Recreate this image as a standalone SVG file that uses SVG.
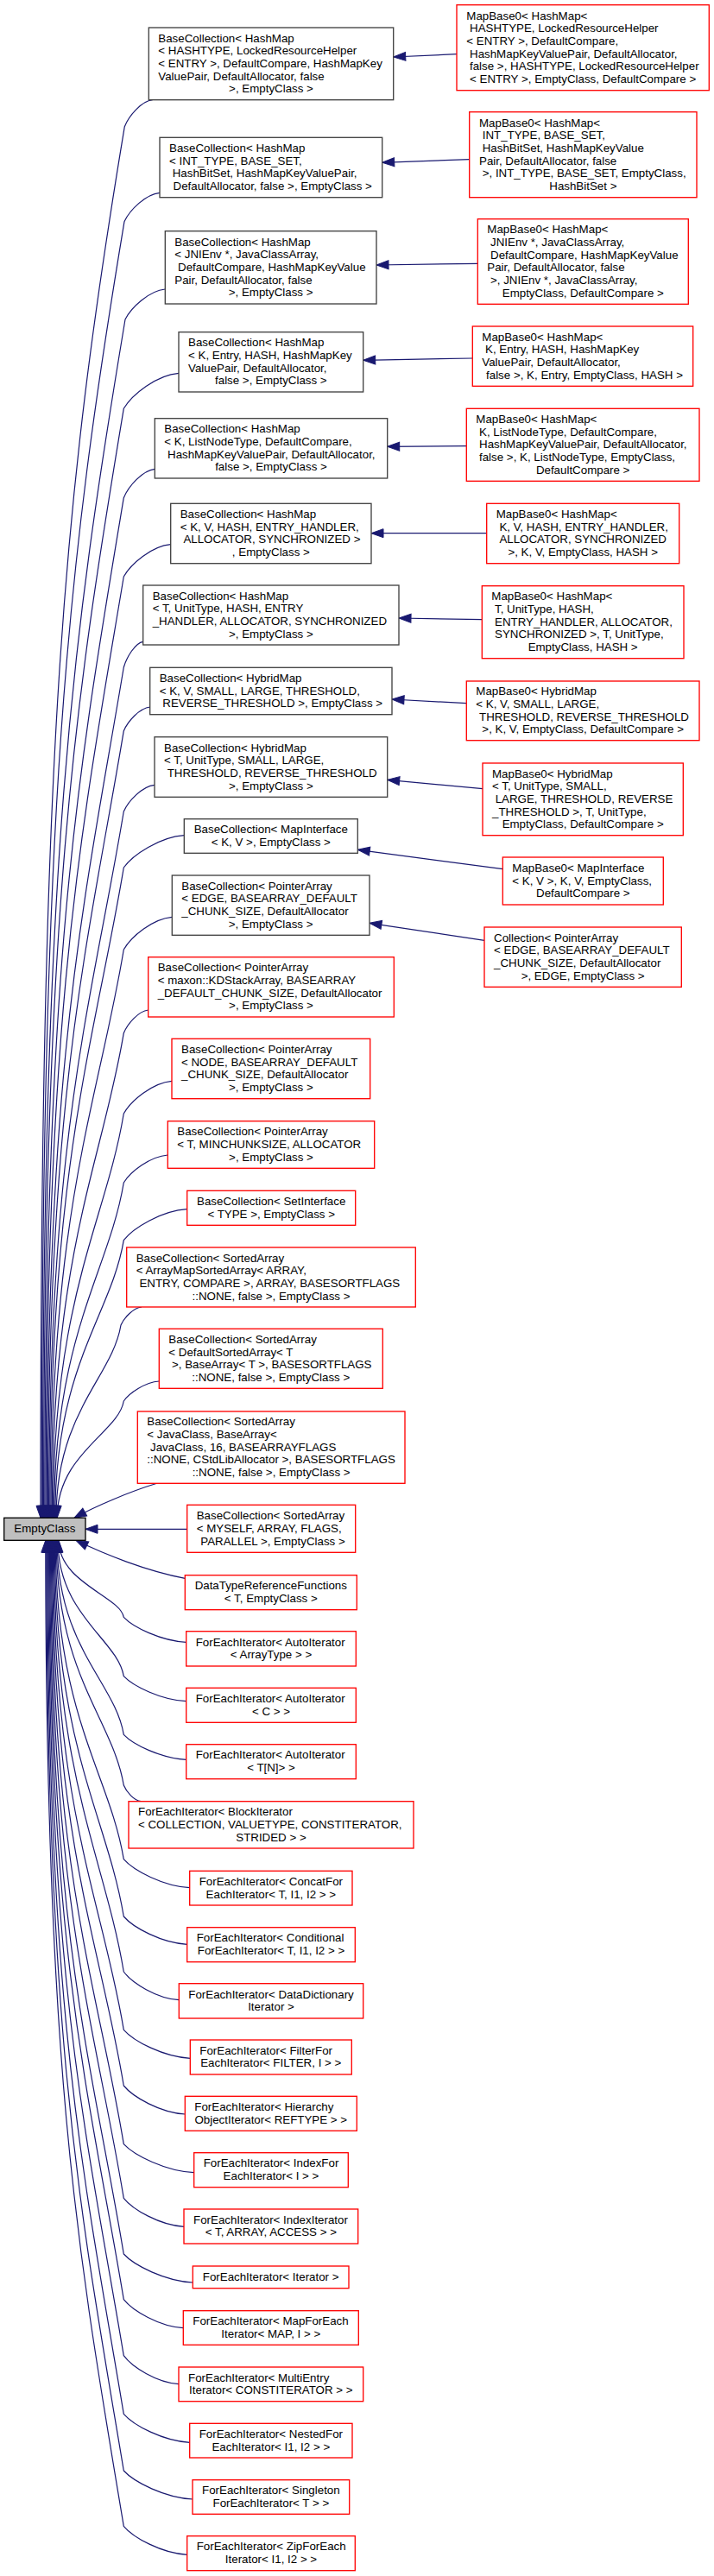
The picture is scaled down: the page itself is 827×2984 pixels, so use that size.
<svg xmlns="http://www.w3.org/2000/svg" width="827" height="2984" viewBox="0 0 827 2984">
<style>
rect{fill:#fff;stroke-width:1.33}
.k rect{stroke:#404040}
.r rect{stroke:#ff0000}
text{font-family:"Liberation Sans",Arial,Helvetica,sans-serif;font-size:13.33px;fill:#000}
.c{text-anchor:middle}
#edges path{fill:none;stroke:#191970;stroke-width:1.2;marker-end:url(#a)}
</style>
<defs>
<marker id="a" markerUnits="userSpaceOnUse" markerWidth="15" markerHeight="11" refX="14" refY="5" orient="auto" overflow="visible">
<path d="M0,0 L14,5 L0,10 z" fill="#191970" stroke="#191970" stroke-width="1"/>
</marker>
</defs>
<rect width="827" height="2984" style="fill:#fff;stroke:none"/>
<g id="edges">
<path d="M529,62.7 L455.7,66"/>
<path d="M543.7,184.7 L442.7,188.3"/>
<path d="M553.3,305.3 L436,307"/>
<path d="M547.3,415 L420.7,417.3"/>
<path d="M540.3,516.7 L448.7,517.3"/>
<path d="M563.7,617.7 L430,617.7"/>
<path d="M558.3,717.7 L462,716"/>
<path d="M540.3,814.7 L454,810"/>
<path d="M559,913.7 L448.7,903.3"/>
<path d="M582.3,1006.7 L414.3,984.3"/>
<path d="M561,1089.3 L428,1069.3"/>
<path d="M176.7,115.7 C163.7,117.2 149.2,134.3 144.3,146.7 C71.8,581.8 47,871.9 47,1758.3"/>
<path d="M185,223.3 C168.6,225 150.2,243.3 144,256.7 C76.4,662.1 48.2,932.4 48.2,1758.3"/>
<path d="M191.3,335 C172.8,336.8 151.9,356 145,370 C82.5,744.8 49.4,994.7 49.4,1758.3"/>
<path d="M207,432.3 C181.5,434.4 152.9,456.9 143.3,473.3 C85.5,820.3 50.6,1051.5 50.6,1758.3"/>
<path d="M179.3,543.3 C164.9,545 148.7,563.3 143.3,576.7 C90.1,895.7 51.8,1108.4 51.8,1758.3"/>
<path d="M197.7,630.7 C175.9,632.6 151.5,653.1 143.3,668 C94.2,962.4 53,1158.6 53,1758.3"/>
<path d="M165.7,743.3 C156.7,744.8 146.7,761.1 143.3,773 C99,1039 54.2,1216.4 54.2,1758.3"/>
<path d="M173.7,819 C161.5,820.4 147.9,835.6 143.3,846.7 C102.3,1092.8 55.4,1256.9 55.4,1758.3"/>
<path d="M179,909.3 C164.7,910.8 148.7,927.7 143.3,940 C106.5,1160.9 56.6,1308.2 56.6,1758.3"/>
<path d="M213.3,967.7 C185.3,969.6 153.8,990.1 143.3,1005 C109.4,1208.4 57.8,1344 57.8,1758.3"/>
<path d="M199.3,1062.3 C176.9,1064.2 151.7,1084.9 143.3,1100 C113.7,1277.7 59,1396.2 59,1758.3"/>
<path d="M171.7,1170 C160.3,1171.3 147.6,1186 143.3,1196.7 C118,1348.3 60.2,1449.4 60.2,1758.3"/>
<path d="M199,1252.3 C176.7,1254.2 151.7,1274.9 143.3,1290 C122.2,1416.4 61.4,1500.7 61.4,1758.3"/>
<path d="M194.3,1338 C173.9,1339.6 151,1357.2 143.3,1370 C125.8,1474.8 62.6,1544.7 62.6,1758.3"/>
<path d="M216.7,1400.7 C187.3,1402.5 154.3,1422.3 143.3,1436.7 C128.8,1523.5 63.8,1581.4 63.8,1758.3"/>
<path d="M164,1514 C154.4,1515 143.6,1526.6 140,1535 C130,1595.3 65,1635.5 65,1758.3"/>
<path d="M184.3,1600 C167.9,1601.2 149.5,1613.8 143.3,1623 C137.2,1659.5 66.2,1683.9 66.2,1758.3"/>
<path d="M181.7,1718.3 C150,1728 110,1745 86,1758.3"/>
<path d="M216.7,1771.3 L99,1771.3"/>
<path d="M214.3,1828.3 C170,1820 120,1800 88,1784.3"/>
<path d="M215.7,1902.3 C186.7,1900.8 154.2,1884.9 143.3,1873.3 C139.3,1849.3 68,1833.3 68,1784.3"/>
<path d="M215.7,1970.7 C186.7,1969.3 154.2,1953.3 143.3,1941.7 C136.2,1899.2 67.05,1870.9 67.05,1784.3"/>
<path d="M215.7,2038.3 C186.7,2036.8 154.2,2020.9 143.3,2009.3 C133.2,1948.6 66.1,1908 66.1,1784.3"/>
<path d="M163.3,2086.7 C155.3,2085.8 146.3,2075.5 143.3,2068 C130.5,1991.4 65.15,1940.3 65.15,1784.3"/>
<path d="M219.7,2186.7 C189.1,2185 154.8,2166.9 143.3,2153.7 C126.7,2054 64.2,1987.5 64.2,1784.3"/>
<path d="M216.7,2252.3 C187.3,2250.7 154.3,2232.9 143.3,2220 C123.7,2102.4 63.25,2023.9 63.25,1784.3"/>
<path d="M207.3,2316.7 C181.7,2315.1 152.9,2297.1 143.3,2284 C120.8,2149.1 62.3,2059.1 62.3,1784.3"/>
<path d="M220.3,2384.3 C189.5,2382.7 154.9,2364.5 143.3,2351.3 C117.8,2198.2 61.35,2096.2 61.35,1784.3"/>
<path d="M214.3,2449 C185.9,2447.4 154,2429.2 143.3,2416 C114.9,2245.4 60.4,2131.7 60.4,1784.3"/>
<path d="M224.7,2516.7 C192.1,2515.1 155.5,2496.9 143.3,2483.7 C111.8,2294.9 59.45,2169 59.45,1784.3"/>
<path d="M213,2579.3 C185.1,2577.7 153.8,2559.5 143.3,2546.3 C109,2340.6 58.5,2203.4 58.5,1784.3"/>
<path d="M223.3,2644 C191.3,2642.4 155.3,2624.2 143.3,2611 C106.1,2387.8 57.55,2239 57.55,1784.3"/>
<path d="M212.3,2696.7 C184.7,2695.1 153.7,2676.9 143.3,2663.7 C103.7,2426.3 56.6,2268 56.6,1784.3"/>
<path d="M207,2761.7 C181.5,2760.1 152.9,2741.9 143.3,2728.7 C100.8,2473.7 55.65,2303.7 55.65,1784.3"/>
<path d="M219.7,2829.3 C189.1,2827.7 154.8,2809.5 143.3,2796.3 C97.8,2523.1 54.7,2340.9 54.7,1784.3"/>
<path d="M223,2895 C191.1,2893.4 155.3,2875.2 143.3,2862 C94.8,2571 53.75,2377 53.75,1784.3"/>
<path d="M216.7,2959.3 C187.3,2957.7 154.3,2939.5 143.3,2926.3 C91.9,2618 52.8,2412.4 52.8,1784.3"/>
</g>
<g id="EmptyClass"><rect x="4.7" y="1758.3" width="94.3" height="26" style="fill:#bfbfbf;stroke:#000"/><text class="c" x="51.85" y="1775.3">EmptyClass</text></g>
<g id="n1" class="k"><rect x="172.3" y="32" width="283.4" height="83.7"/>
<text x="183.3" y="48.5">BaseCollection&lt; HashMap</text>
<text x="183.3" y="63.2">&lt; HASHTYPE, LockedResourceHelper</text>
<text x="183.3" y="77.9">&lt; ENTRY &gt;, DefaultCompare, HashMapKey</text>
<text x="183.3" y="92.5">ValuePair, DefaultAllocator, false</text>
<text class="c" x="314" y="107.2">&gt;, EmptyClass &gt;</text></g>
<g id="n2" class="k"><rect x="185" y="159.3" width="257.7" height="69.4"/>
<text x="196" y="176">BaseCollection&lt; HashMap</text>
<text x="196" y="190.7">&lt; INT_TYPE, BASE_SET,</text>
<text x="199.7" y="205.3">HashBitSet, HashMapKeyValuePair,</text>
<text class="c" x="315.7" y="220">DefaultAllocator, false &gt;, EmptyClass &gt;</text></g>
<g id="n3" class="k"><rect x="191.3" y="267.7" width="244.7" height="84.3"/>
<text x="202.3" y="284.5">BaseCollection&lt; HashMap</text>
<text x="202.3" y="299.2">&lt; JNIEnv *, JavaClassArray,</text>
<text x="206" y="313.9">DefaultCompare, HashMapKeyValue</text>
<text x="202.3" y="328.5">Pair, DefaultAllocator, false</text>
<text class="c" x="313.65" y="343.2">&gt;, EmptyClass &gt;</text></g>
<g id="n4" class="k"><rect x="207" y="384.7" width="213.7" height="69.3"/>
<text x="218" y="401.4">BaseCollection&lt; HashMap</text>
<text x="218" y="416">&lt; K, Entry, HASH, HashMapKey</text>
<text x="218" y="430.7">ValuePair, DefaultAllocator,</text>
<text class="c" x="313.85" y="445.4">false &gt;, EmptyClass &gt;</text></g>
<g id="n5" class="k"><rect x="179.3" y="484.7" width="269.4" height="69.3"/>
<text x="190.3" y="501.4">BaseCollection&lt; HashMap</text>
<text x="190.3" y="516">&lt; K, ListNodeType, DefaultCompare,</text>
<text x="194" y="530.7">HashMapKeyValuePair, DefaultAllocator,</text>
<text class="c" x="314" y="545.4">false &gt;, EmptyClass &gt;</text></g>
<g id="n6" class="k"><rect x="197.7" y="583.3" width="232.3" height="69.4"/>
<text x="208.7" y="600">BaseCollection&lt; HashMap</text>
<text x="208.7" y="614.7">&lt; K, V, HASH, ENTRY_HANDLER,</text>
<text x="212.4" y="629.3">ALLOCATOR, SYNCHRONIZED &gt;</text>
<text class="c" x="313.85" y="644">, EmptyClass &gt;</text></g>
<g id="n7" class="k"><rect x="165.7" y="678" width="296.3" height="69"/>
<text x="176.7" y="694.5">BaseCollection&lt; HashMap</text>
<text x="176.7" y="709.2">&lt; T, UnitType, HASH, ENTRY</text>
<text x="176.7" y="723.8">_HANDLER, ALLOCATOR, SYNCHRONIZED</text>
<text class="c" x="313.85" y="738.5">&gt;, EmptyClass &gt;</text></g>
<g id="n8" class="k"><rect x="173.7" y="773.3" width="280.3" height="54.4"/>
<text x="184.7" y="789.8">BaseCollection&lt; HybridMap</text>
<text x="184.7" y="804.5">&lt; K, V, SMALL, LARGE, THRESHOLD,</text>
<text class="c" x="315.7" y="819.2">REVERSE_THRESHOLD &gt;, EmptyClass &gt;</text></g>
<g id="n9" class="k"><rect x="179" y="853.7" width="269.7" height="69.6"/>
<text x="190" y="870.5">BaseCollection&lt; HybridMap</text>
<text x="190" y="885.2">&lt; T, UnitType, SMALL, LARGE,</text>
<text x="193.7" y="899.8">THRESHOLD, REVERSE_THRESHOLD</text>
<text class="c" x="313.85" y="914.5">&gt;, EmptyClass &gt;</text></g>
<g id="n10" class="k"><rect x="213.3" y="948.7" width="201" height="39.6"/>
<text class="c" x="313.8" y="965.2">BaseCollection&lt; MapInterface</text>
<text class="c" x="313.8" y="979.8">&lt; K, V &gt;, EmptyClass &gt;</text></g>
<g id="n11" class="k"><rect x="199.3" y="1014" width="228.7" height="69.3"/>
<text x="210.3" y="1030.7">BaseCollection&lt; PointerArray</text>
<text x="210.3" y="1045.3">&lt; EDGE, BASEARRAY_DEFAULT</text>
<text x="210.3" y="1060">_CHUNK_SIZE, DefaultAllocator</text>
<text class="c" x="313.65" y="1074.7">&gt;, EmptyClass &gt;</text></g>
<g id="n12" class="r"><rect x="171.7" y="1108.7" width="284.6" height="69.3"/>
<text x="182.7" y="1125.4">BaseCollection&lt; PointerArray</text>
<text x="182.7" y="1140">&lt; maxon::KDStackArray, BASEARRAY</text>
<text x="182.7" y="1154.7">_DEFAULT_CHUNK_SIZE, DefaultAllocator</text>
<text class="c" x="314" y="1169.4">&gt;, EmptyClass &gt;</text></g>
<g id="n13" class="r"><rect x="199" y="1203.3" width="229.7" height="69.4"/>
<text x="210" y="1220">BaseCollection&lt; PointerArray</text>
<text x="210" y="1234.7">&lt; NODE, BASEARRAY_DEFAULT</text>
<text x="210" y="1249.3">_CHUNK_SIZE, DefaultAllocator</text>
<text class="c" x="313.85" y="1264">&gt;, EmptyClass &gt;</text></g>
<g id="n14" class="r"><rect x="194.3" y="1298.7" width="239.4" height="54.6"/>
<text x="205.3" y="1315.3">BaseCollection&lt; PointerArray</text>
<text x="205.3" y="1330">&lt; T, MINCHUNKSIZE, ALLOCATOR</text>
<text class="c" x="314" y="1344.7">&gt;, EmptyClass &gt;</text></g>
<g id="n15" class="r"><rect x="216.7" y="1379.3" width="195" height="40"/>
<text class="c" x="314.2" y="1396">BaseCollection&lt; SetInterface</text>
<text class="c" x="314.2" y="1410.6">&lt; TYPE &gt;, EmptyClass &gt;</text></g>
<g id="n16" class="r"><rect x="146.7" y="1445" width="334.6" height="69"/>
<text x="157.7" y="1461.5">BaseCollection&lt; SortedArray</text>
<text x="157.7" y="1476.2">&lt; ArrayMapSortedArray&lt; ARRAY,</text>
<text x="161.4" y="1490.8">ENTRY, COMPARE &gt;, ARRAY, BASESORTFLAGS</text>
<text class="c" x="314" y="1505.5">::NONE, false &gt;, EmptyClass &gt;</text></g>
<g id="n17" class="r"><rect x="184.3" y="1539.3" width="259" height="69"/>
<text x="195.3" y="1555.8">BaseCollection&lt; SortedArray</text>
<text x="195.3" y="1570.5">&lt; DefaultSortedArray&lt; T</text>
<text x="199" y="1585.1">&gt;, BaseArray&lt; T &gt;, BASESORTFLAGS</text>
<text class="c" x="313.8" y="1599.8">::NONE, false &gt;, EmptyClass &gt;</text></g>
<g id="n18" class="r"><rect x="159.3" y="1635" width="309.7" height="83.3"/>
<text x="170.3" y="1651.3">BaseCollection&lt; SortedArray</text>
<text x="170.3" y="1666">&lt; JavaClass, BaseArray&lt;</text>
<text x="174" y="1680.7">JavaClass, 16, BASEARRAYFLAGS</text>
<text x="170.3" y="1695.3">::NONE, CStdLibAllocator &gt;, BASESORTFLAGS</text>
<text class="c" x="314.15" y="1710">::NONE, false &gt;, EmptyClass &gt;</text></g>
<g id="n19" class="r"><rect x="216.7" y="1743.3" width="195" height="55"/>
<text x="227.7" y="1760.1">BaseCollection&lt; SortedArray</text>
<text x="227.7" y="1774.8">&lt; MYSELF, ARRAY, FLAGS,</text>
<text class="c" x="316" y="1789.5">PARALLEL &gt;, EmptyClass &gt;</text></g>
<g id="n20" class="r"><rect x="214.3" y="1824.7" width="199" height="40"/>
<text class="c" x="313.8" y="1841.4">DataTypeReferenceFunctions</text>
<text class="c" x="313.8" y="1856">&lt; T, EmptyClass &gt;</text></g>
<g id="n21" class="r"><rect x="215.7" y="1889.7" width="196.6" height="40.3"/>
<text x="226.7" y="1906.5">ForEachIterator&lt; AutoIterator</text>
<text class="c" x="314" y="1921.2">&lt; ArrayType &gt; &gt;</text></g>
<g id="n22" class="r"><rect x="215.7" y="1955.3" width="196.6" height="40"/>
<text x="226.7" y="1972">ForEachIterator&lt; AutoIterator</text>
<text class="c" x="314" y="1986.6">&lt; C &gt; &gt;</text></g>
<g id="n23" class="r"><rect x="215.7" y="2020.7" width="196.6" height="40"/>
<text x="226.7" y="2037.4">ForEachIterator&lt; AutoIterator</text>
<text class="c" x="314" y="2052">&lt; T[N]&gt; &gt;</text></g>
<g id="n24" class="r"><rect x="149" y="2086.7" width="330" height="54.3"/>
<text x="160" y="2103.2">ForEachIterator&lt; BlockIterator</text>
<text x="160" y="2117.9">&lt; COLLECTION, VALUETYPE, CONSTITERATOR,</text>
<text class="c" x="314" y="2132.5">STRIDED &gt; &gt;</text></g>
<g id="n25" class="r"><rect x="219.7" y="2167.3" width="188.3" height="39.7"/>
<text x="230.7" y="2183.8">ForEachIterator&lt; ConcatFor</text>
<text class="c" x="313.85" y="2198.5">EachIterator&lt; T, I1, I2 &gt; &gt;</text></g>
<g id="n26" class="r"><rect x="216.7" y="2232.7" width="194.6" height="40"/>
<text x="227.7" y="2249.4">ForEachIterator&lt; Conditional</text>
<text class="c" x="314" y="2264">ForEachIterator&lt; T, I1, I2 &gt; &gt;</text></g>
<g id="n27" class="r"><rect x="207.3" y="2297.7" width="213.4" height="40.3"/>
<text x="218.3" y="2314.5">ForEachIterator&lt; DataDictionary</text>
<text class="c" x="314" y="2329.2">Iterator &gt;</text></g>
<g id="n28" class="r"><rect x="220.3" y="2363" width="187" height="40"/>
<text x="231.3" y="2379.7">ForEachIterator&lt; FilterFor</text>
<text class="c" x="313.8" y="2394.3">EachIterator&lt; FILTER, I &gt; &gt;</text></g>
<g id="n29" class="r"><rect x="214.3" y="2428.3" width="199" height="40"/>
<text x="225.3" y="2445">ForEachIterator&lt; Hierarchy</text>
<text class="c" x="313.8" y="2459.6">ObjectIterator&lt; REFTYPE &gt; &gt;</text></g>
<g id="n30" class="r"><rect x="224.7" y="2493.7" width="178.6" height="40"/>
<text x="235.7" y="2510.4">ForEachIterator&lt; IndexFor</text>
<text class="c" x="314" y="2525">EachIterator&lt; I &gt; &gt;</text></g>
<g id="n31" class="r"><rect x="213" y="2559" width="201.7" height="40"/>
<text x="224" y="2575.7">ForEachIterator&lt; IndexIterator</text>
<text class="c" x="313.85" y="2590.3">&lt; T, ARRAY, ACCESS &gt; &gt;</text></g>
<g id="n32" class="r"><rect x="223.3" y="2625" width="180.7" height="25.7"/>
<text class="c" x="313.65" y="2641.85">ForEachIterator&lt; Iterator &gt;</text></g>
<g id="n33" class="r"><rect x="212.3" y="2676.7" width="203" height="39.6"/>
<text x="223.3" y="2693.2">ForEachIterator&lt; MapForEach</text>
<text class="c" x="313.8" y="2707.8">Iterator&lt; MAP, I &gt; &gt;</text></g>
<g id="n34" class="r"><rect x="207" y="2742" width="213.7" height="39.7"/>
<text x="218" y="2758.5">ForEachIterator&lt; MultiEntry</text>
<text class="c" x="313.85" y="2773.2">Iterator&lt; CONSTITERATOR &gt; &gt;</text></g>
<g id="n35" class="r"><rect x="219.7" y="2807.3" width="188.3" height="39.7"/>
<text x="230.7" y="2823.8">ForEachIterator&lt; NestedFor</text>
<text class="c" x="313.85" y="2838.5">EachIterator&lt; I1, I2 &gt; &gt;</text></g>
<g id="n36" class="r"><rect x="223" y="2872.7" width="181.7" height="39.6"/>
<text x="234" y="2889.2">ForEachIterator&lt; Singleton</text>
<text class="c" x="313.85" y="2903.8">ForEachIterator&lt; T &gt; &gt;</text></g>
<g id="n37" class="r"><rect x="216.7" y="2937.7" width="194.6" height="40"/>
<text x="227.7" y="2954.4">ForEachIterator&lt; ZipForEach</text>
<text class="c" x="314" y="2969">Iterator&lt; I1, I2 &gt; &gt;</text></g>
<g id="m1" class="r"><rect x="529" y="5.7" width="292.3" height="99"/>
<text x="540.3" y="22.5">MapBase0&lt; HashMap&lt;</text>
<text x="544" y="37.2">HASHTYPE, LockedResourceHelper</text>
<text x="540.3" y="51.9">&lt; ENTRY &gt;, DefaultCompare,</text>
<text x="544" y="66.5">HashMapKeyValuePair, DefaultAllocator,</text>
<text x="544" y="81.2">false &gt;, HASHTYPE, LockedResourceHelper</text>
<text class="c" x="675.15" y="95.9">&lt; ENTRY &gt;, EmptyClass, DefaultCompare &gt;</text></g>
<g id="m2" class="r"><rect x="543.7" y="129.7" width="263.3" height="99"/>
<text x="555" y="146.5">MapBase0&lt; HashMap&lt;</text>
<text x="558.7" y="161.2">INT_TYPE, BASE_SET,</text>
<text x="558.7" y="175.9">HashBitSet, HashMapKeyValue</text>
<text x="555" y="190.5">Pair, DefaultAllocator, false</text>
<text x="558.7" y="205.2">&gt;, INT_TYPE, BASE_SET, EmptyClass,</text>
<text class="c" x="675.35" y="219.9">HashBitSet &gt;</text></g>
<g id="m3" class="r"><rect x="553.3" y="253.7" width="244" height="98.6"/>
<text x="564.3" y="270.3">MapBase0&lt; HashMap&lt;</text>
<text x="568" y="285">JNIEnv *, JavaClassArray,</text>
<text x="568" y="299.7">DefaultCompare, HashMapKeyValue</text>
<text x="564.3" y="314.3">Pair, DefaultAllocator, false</text>
<text x="568" y="329">&gt;, JNIEnv *, JavaClassArray,</text>
<text class="c" x="675.3" y="343.7">EmptyClass, DefaultCompare &gt;</text></g>
<g id="m4" class="r"><rect x="547.3" y="378" width="255.4" height="69.3"/>
<text x="558.3" y="394.7">MapBase0&lt; HashMap&lt;</text>
<text x="562" y="409.3">K, Entry, HASH, HashMapKey</text>
<text x="558.3" y="424">ValuePair, DefaultAllocator,</text>
<text class="c" x="677" y="438.7">false &gt;, K, Entry, EmptyClass, HASH &gt;</text></g>
<g id="m5" class="r"><rect x="540.3" y="473.3" width="269.7" height="84"/>
<text x="551.3" y="490">MapBase0&lt; HashMap&lt;</text>
<text x="555" y="504.6">K, ListNodeType, DefaultCompare,</text>
<text x="555" y="519.3">HashMapKeyValuePair, DefaultAllocator,</text>
<text x="555" y="534">false &gt;, K, ListNodeType, EmptyClass,</text>
<text class="c" x="675.15" y="548.6">DefaultCompare &gt;</text></g>
<g id="m6" class="r"><rect x="563.7" y="583.3" width="223" height="69.4"/>
<text x="574.7" y="600">MapBase0&lt; HashMap&lt;</text>
<text x="578.4" y="614.7">K, V, HASH, ENTRY_HANDLER,</text>
<text x="578.4" y="629.3">ALLOCATOR, SYNCHRONIZED</text>
<text class="c" x="675.2" y="644">&gt;, K, V, EmptyClass, HASH &gt;</text></g>
<g id="m7" class="r"><rect x="558.3" y="678.7" width="233.7" height="84"/>
<text x="569.3" y="695.4">MapBase0&lt; HashMap&lt;</text>
<text x="573" y="710">T, UnitType, HASH,</text>
<text x="573" y="724.7">ENTRY_HANDLER, ALLOCATOR,</text>
<text x="573" y="739.4">SYNCHRONIZED &gt;, T, UnitType,</text>
<text class="c" x="675.15" y="754">EmptyClass, HASH &gt;</text></g>
<g id="m8" class="r"><rect x="540.3" y="789" width="269.7" height="68.7"/>
<text x="551.3" y="805.4">MapBase0&lt; HybridMap</text>
<text x="551.3" y="820">&lt; K, V, SMALL, LARGE,</text>
<text x="555" y="834.7">THRESHOLD, REVERSE_THRESHOLD</text>
<text class="c" x="675.15" y="849.4">&gt;, K, V, EmptyClass, DefaultCompare &gt;</text></g>
<g id="m9" class="r"><rect x="559" y="884" width="232.3" height="83.7"/>
<text x="570" y="900.5">MapBase0&lt; HybridMap</text>
<text x="570" y="915.2">&lt; T, UnitType, SMALL,</text>
<text x="573.7" y="929.9">LARGE, THRESHOLD, REVERSE</text>
<text x="570" y="944.5">_THRESHOLD &gt;, T, UnitType,</text>
<text class="c" x="675.15" y="959.2">EmptyClass, DefaultCompare &gt;</text></g>
<g id="m10" class="r"><rect x="582.3" y="993" width="186" height="55"/>
<text x="593.3" y="1009.8">MapBase0&lt; MapInterface</text>
<text x="593.3" y="1024.5">&lt; K, V &gt;, K, V, EmptyClass,</text>
<text class="c" x="675.3" y="1039.2">DefaultCompare &gt;</text></g>
<g id="m11" class="r"><rect x="561" y="1074" width="228.3" height="69.3"/>
<text x="572" y="1090.7">Collection&lt; PointerArray</text>
<text x="572" y="1105.3">&lt; EDGE, BASEARRAY_DEFAULT</text>
<text x="572" y="1120">_CHUNK_SIZE, DefaultAllocator</text>
<text class="c" x="675.15" y="1134.7">&gt;, EDGE, EmptyClass &gt;</text></g>
</svg>
